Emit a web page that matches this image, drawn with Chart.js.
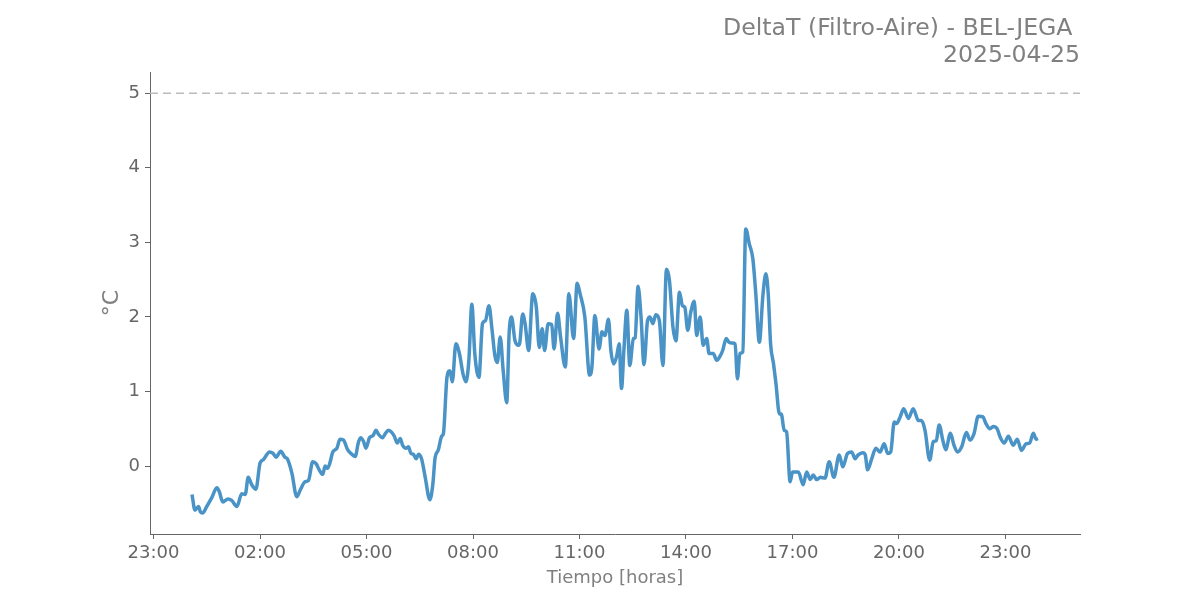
<!DOCTYPE html>
<html>
<head>
<meta charset="utf-8">
<script src="https://cdn.jsdelivr.net/npm/chart.js@4/dist/chart.umd.min.js"></script>
<style>
  body { margin: 0; background: #fff; }
  #wrap { width: 1200px; height: 600px; }
</style>
</head>
<body>
<div id="wrap"><canvas id="grafico" width="1200" height="600"></canvas></div>
<script>
// minutos desde la medianoche del 2025-04-25
const minutos = [
    5, 10, 16, 19, 23, 30, 38, 47, 51, 57, 66, 72, 81, 89, 95, 100, 106, 113, 120, 126,
    136, 142, 147, 155, 162, 166, 174, 182, 188, 196, 202, 209, 215, 220, 226, 230, 234, 238, 243, 250,
    255, 261, 268, 275, 281, 286, 290, 295, 299, 305, 311, 316, 320, 327, 332, 337, 343, 347, 352, 357,
    361, 367, 371, 375, 379, 384, 388, 393, 399, 407, 412, 416, 421, 427, 430, 436, 441, 445, 451, 457,
    463, 468, 473, 478, 483, 490, 496, 501, 507, 512, 517, 521, 526, 531, 537, 541, 545, 551, 557, 559,
    564, 568, 574, 581, 587, 592, 597, 601, 607, 613, 617, 623, 628, 636, 642, 650, 656, 661, 669, 677,
    681, 686, 693, 698, 703, 709, 713, 718, 723, 727, 731, 735, 740, 745, 751, 754, 759, 764, 769, 775,
    779, 784, 789, 795, 801, 807, 812, 818, 823, 829, 834, 838, 843, 848, 854, 858, 864, 869, 875, 879,
    886, 892, 898, 902, 908, 913, 918, 923, 927, 931, 936, 941, 947, 953, 958, 964, 970, 975, 979, 983,
    988, 992, 998, 1001, 1006, 1010, 1016, 1020, 1030, 1038, 1044, 1050, 1055, 1061, 1067, 1075, 1082, 1090, 1099, 1105,
    1113, 1120, 1126, 1131, 1139, 1143, 1147, 1154, 1161, 1168, 1175, 1181, 1186, 1192, 1196, 1202, 1208, 1216, 1224, 1233,
    1238, 1244, 1252, 1258, 1263, 1268, 1274, 1279, 1287, 1293, 1299, 1306, 1314, 1320, 1327, 1334, 1342, 1347, 1354, 1359,
    1366, 1371, 1378, 1385, 1393, 1400, 1407, 1415, 1421, 1427, 1432, 1435
];
const deltaT = [
    -0.38, -0.59, -0.54, -0.61, -0.63, -0.54, -0.43, -0.29, -0.34, -0.48, -0.44, -0.46, -0.54, -0.37, -0.38, -0.15, -0.25, -0.31, 0.04, 0.09,
    0.19, 0.17, 0.12, 0.20, 0.12, 0.10, -0.10, -0.41, -0.32, -0.21, -0.19, 0.06, 0.03, -0.05, -0.11, 0.00, -0.03, 0.04, 0.19, 0.24,
    0.36, 0.35, 0.22, 0.16, 0.13, 0.31, 0.38, 0.33, 0.24, 0.38, 0.41, 0.48, 0.43, 0.38, 0.44, 0.48, 0.45, 0.40, 0.31, 0.37,
    0.28, 0.24, 0.26, 0.17, 0.16, 0.10, 0.16, 0.10, -0.14, -0.45, -0.25, 0.12, 0.21, 0.40, 0.44, 1.19, 1.28, 1.13, 1.64, 1.51,
    1.24, 1.13, 1.42, 2.17, 1.51, 1.19, 1.91, 1.95, 2.15, 1.84, 1.48, 1.39, 1.73, 1.28, 0.85, 1.77, 2.00, 1.68, 1.62, 1.65,
    2.04, 1.91, 1.55, 2.31, 2.13, 1.59, 1.84, 1.55, 1.91, 1.90, 1.57, 2.05, 1.73, 1.33, 2.31, 1.71, 2.45, 2.31, 2.00, 1.22,
    1.33, 2.02, 1.57, 1.80, 1.75, 1.97, 1.55, 1.37, 1.48, 1.64, 1.04, 1.55, 2.09, 1.35, 1.71, 1.72, 2.41, 2.00, 1.36, 1.95,
    2.00, 1.91, 2.03, 1.95, 1.35, 2.64, 2.49, 1.86, 1.68, 2.33, 2.15, 2.13, 1.82, 2.06, 2.21, 1.75, 2.00, 1.62, 1.71, 1.51,
    1.51, 1.42, 1.48, 1.55, 1.71, 1.66, 1.65, 1.64, 1.17, 1.51, 1.53, 3.18, 2.98, 2.78, 2.31, 1.66, 2.29, 2.58, 2.31, 1.64,
    1.37, 1.11, 0.70, 0.70, 0.48, 0.46, -0.21, -0.08, -0.08, -0.25, -0.08, -0.18, -0.12, -0.18, -0.15, -0.16, 0.06, -0.15, 0.15, -0.01,
    0.17, 0.19, 0.10, 0.15, 0.18, 0.15, -0.05, 0.10, 0.24, 0.19, 0.30, 0.17, 0.19, 0.59, 0.57, 0.66, 0.77, 0.64, 0.77, 0.61,
    0.61, 0.48, 0.08, 0.33, 0.34, 0.55, 0.35, 0.22, 0.44, 0.28, 0.19, 0.26, 0.45, 0.35, 0.44, 0.67, 0.66, 0.57, 0.50, 0.53,
    0.50, 0.39, 0.31, 0.40, 0.28, 0.36, 0.21, 0.30, 0.31, 0.44, 0.36, 0.37
];

const umbral = 5;
const rangoX = [-1.1, 25.1];
const rangoY = [-0.91, 5.28];
const ticksX = [-1, 2, 5, 8, 11, 14, 17, 20, 23];
const etiquetasX = ['23:00', '02:00', '05:00', '08:00', '11:00', '14:00', '17:00', '20:00', '23:00'];
const ticksY = [0, 1, 2, 3, 4, 5];

const fuente = 'DejaVu Sans';
const gris = '#808080';
const ejes = '#666';

const puntos = minutos.map((m, i) => ({ x: m / 60, y: deltaT[i] }));

new Chart(document.getElementById('grafico'), {
    type: 'line',
    data: {
        datasets: [
            {
                data: puntos,
                borderColor: '#4a93c6',
                borderWidth: 3.5,
                pointRadius: 0,
                cubicInterpolationMode: 'monotone',
                fill: false
            },
            {
                data: [{ x: rangoX[0], y: umbral }, { x: rangoX[1], y: umbral }],
                borderColor: '#bbbbbb',
                borderWidth: 1.5,
                borderDash: [8, 5],
                pointRadius: 0,
                fill: false
            }
        ]
    },
    options: {
        responsive: false,
        animation: false,
        layout: { padding: { left: 0, right: 120, top: 5, bottom: 0 } },
        plugins: {
            legend: { display: false },
            tooltip: { enabled: false },
            title: {
                display: true,
                align: 'end',
                text: ['DeltaT (Filtro-Aire) - BEL-JEGA ', '2025-04-25'],
                color: gris,
                font: { family: fuente, size: 23.6, weight: 'normal', lineHeight: 1.15 },
                padding: { top: 10, bottom: 3 }
            }
        },
        scales: {
            x: {
                type: 'linear',
                min: rangoX[0],
                max: rangoX[1],
                afterBuildTicks: s => { s.ticks = ticksX.map(v => ({ value: v })); },
                afterFit: s => { s.height = 66; },
                ticks: {
                    color: ejes,
                    font: { family: fuente, size: 18 },
                    padding: 4,
                    maxRotation: 0,
                    autoSkip: false,
                    callback: (v, i) => etiquetasX[i]
                },
                grid: { drawOnChartArea: false, drawTicks: true, tickLength: 5, tickColor: ejes },
                border: { display: true, color: ejes },
                title: {
                    display: true,
                    text: 'Tiempo [horas]',
                    color: gris,
                    font: { family: fuente, size: 18 },
                    padding: { top: 0, bottom: 11 }
                }
            },
            y: {
                min: rangoY[0],
                max: rangoY[1],
                afterBuildTicks: s => { s.ticks = ticksY.map(v => ({ value: v })); },
                afterFit: s => { s.width = 150; },
                ticks: {
                    color: ejes,
                    font: { family: fuente, size: 18 },
                    padding: 5
                },
                grid: { drawOnChartArea: false, drawTicks: true, tickLength: 5, tickColor: ejes },
                border: { display: true, color: ejes },
                title: {
                    display: true,
                    text: '°C',
                    color: gris,
                    font: { family: fuente, size: 22 },
                    padding: { top: 99, bottom: 0 }
                }
            }
        }
    }
});
</script>
</body>
</html>
